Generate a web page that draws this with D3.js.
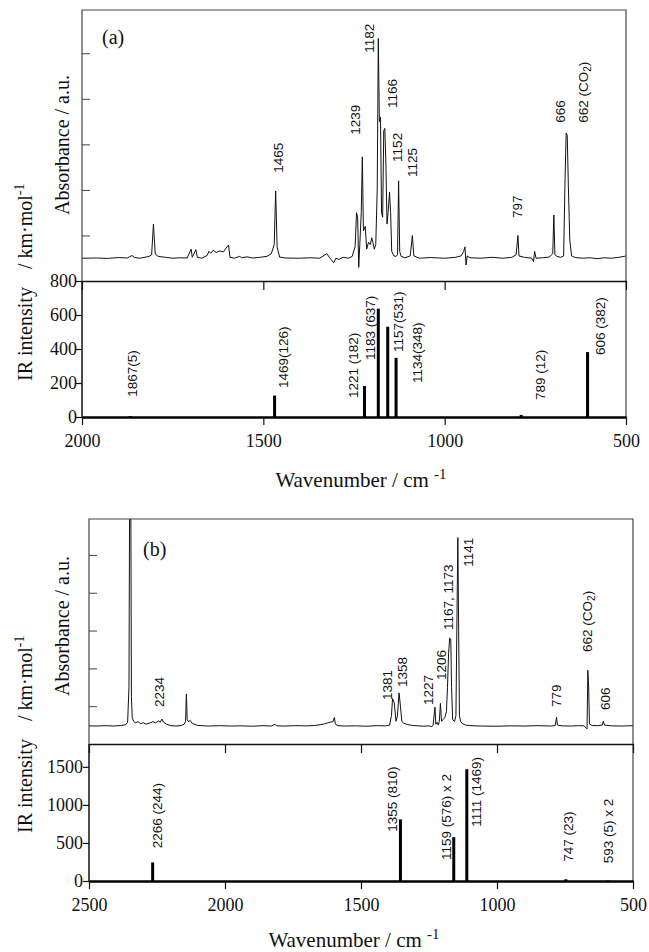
<!DOCTYPE html>
<html><head><meta charset="utf-8">
<script src="https://cdn.jsdelivr.net/npm/d3@7"></script>
<style>body{margin:0;background:#fff}svg{display:block}</style>
</head><body>
<svg id="c" width="649" height="952"></svg>
<script>
// ---------- DATA ----------
// Panel (a) experimental spectrum: [wavenumber, absorbance (a.u.)]
const specA = [
[2000,0.100],[1960,0.101],[1930,0.099],[1900,0.103],[1875,0.101],[1862,0.112],[1855,0.103],[1840,0.100],
[1815,0.108],[1808,0.115],[1803,0.250],[1798,0.118],[1790,0.108],[1770,0.104],[1750,0.100],[1730,0.102],
[1710,0.101],[1699,0.140],[1696,0.104],[1686,0.138],[1682,0.104],[1670,0.100],[1655,0.112],[1650,0.130],
[1645,0.122],[1638,0.135],[1630,0.125],[1620,0.132],[1610,0.128],[1600,0.150],[1596,0.158],[1592,0.104],
[1580,0.100],[1565,0.108],[1560,0.102],[1545,0.106],[1530,0.101],[1510,0.104],[1490,0.108],[1478,0.120],
[1470,0.160],[1466,0.395],[1462,0.150],[1455,0.105],[1440,0.101],[1400,0.100],[1370,0.102],[1345,0.100],
[1330,0.115],[1325,0.120],[1318,0.104],[1312,0.092],[1306,0.080],[1300,0.100],[1292,0.095],[1280,0.104],
[1265,0.100],[1255,0.108],[1247,0.150],[1243,0.300],[1240,0.280],[1237,0.060],[1234,0.160],[1230,0.300],
[1227,0.545],[1224,0.220],[1219,0.240],[1215,0.140],[1210,0.170],[1205,0.160],[1201,0.190],[1198,0.170],
[1194,0.140],[1190,0.160],[1186,0.400],[1183,1.065],[1180,0.700],[1177,0.720],[1174,0.300],[1171,0.280],
[1168,0.660],[1165,0.670],[1162,0.510],[1159,0.250],[1156,0.300],[1152,0.390],[1149,0.300],[1146,0.130],
[1140,0.110],[1134,0.108],[1130,0.115],[1127,0.440],[1124,0.130],[1120,0.108],[1110,0.102],[1095,0.110],
[1089,0.200],[1085,0.110],[1070,0.100],[1040,0.103],[1000,0.100],[970,0.104],[955,0.110],[948,0.128],
[944,0.150],[941,0.070],[938,0.110],[930,0.102],[900,0.100],[870,0.104],[840,0.100],[815,0.104],
[803,0.115],[798,0.200],[795,0.110],[780,0.104],[760,0.100],[755,0.085],[752,0.130],[748,0.100],
[730,0.102],[712,0.105],[702,0.120],[699,0.290],[696,0.115],[690,0.108],[680,0.104],[672,0.110],
[668,0.450],[665,0.650],[662,0.640],[659,0.420],[655,0.180],[650,0.110],[640,0.103],[620,0.100],
[600,0.102],[580,0.098],[560,0.102],[540,0.100],[520,0.104],[505,0.108],[500,0.110]
];
// Panel (a) calculated IR sticks: [wavenumber, intensity km/mol]
const sticksA = [[1867,5],[1469,126],[1221,182],[1183,637],[1157,531],[1134,348],[789,12],[606,382]];
// Panel (a) peak labels on spectrum: [text, wavenumber position, absorbance position]
const labelsAbsA = [
["1465",1459,0.475],["1239",1247,0.642],["1182",1208,1.002],["1166",1146,0.760],
["1152",1130,0.523],["1125",1089,0.457],["797",801,0.277],["666",682,0.695],["662 (CO|2|)",618,0.695]
];
const labelsIrA = [
["1867(5)",1863,119],["1469(126)",1445,171],["1221 (182)",1252,112],["1183 (637)",1206,335],
["1157(531)",1128,382],["1134(348)",1075,200],["789 (12)",737,100],["606 (382)",571,365]
];
const xTicksA = [2000,1500,1000,500];
const irTicksA = [0,200,400,600,800];

// Panel (b)
const specB = [
[2500,0.096],[2470,0.095],[2440,0.097],[2410,0.095],[2380,0.098],[2365,0.102],[2358,0.115],[2353,0.300],
[2350,1.600],[2347,1.600],[2344,0.250],[2341,0.140],[2336,0.120],[2330,0.112],[2320,0.118],[2310,0.108],
[2300,0.112],[2290,0.105],[2275,0.112],[2265,0.118],[2255,0.112],[2245,0.122],[2238,0.115],[2232,0.132],
[2226,0.115],[2215,0.105],[2200,0.097],[2180,0.095],[2160,0.098],[2150,0.105],[2145,0.120],[2142,0.265],
[2139,0.130],[2134,0.118],[2128,0.125],[2120,0.108],[2100,0.098],[2060,0.095],[2020,0.097],[1980,0.095],
[1940,0.096],[1900,0.094],[1860,0.097],[1830,0.095],[1816,0.104],[1810,0.096],[1780,0.095],[1740,0.097],
[1700,0.096],[1670,0.098],[1650,0.102],[1635,0.106],[1622,0.112],[1612,0.116],[1603,0.118],[1598,0.140],
[1594,0.105],[1585,0.097],[1560,0.095],[1520,0.096],[1480,0.094],[1440,0.097],[1410,0.096],[1395,0.100],
[1388,0.150],[1384,0.240],[1378,0.220],[1371,0.120],[1366,0.150],[1360,0.270],[1355,0.200],[1350,0.120],
[1343,0.110],[1330,0.103],[1310,0.098],[1290,0.096],[1270,0.094],[1250,0.096],[1240,0.092],[1235,0.098],
[1230,0.170],[1228,0.195],[1225,0.105],[1220,0.115],[1216,0.100],[1212,0.120],[1208,0.215],[1204,0.120],
[1198,0.130],[1192,0.140],[1186,0.170],[1182,0.300],[1178,0.480],[1174,0.560],[1170,0.555],[1167,0.300],
[1163,0.130],[1156,0.118],[1151,0.150],[1147,0.700],[1144,1.092],[1141,0.600],[1138,0.150],[1134,0.120],
[1128,0.108],[1115,0.100],[1100,0.097],[1060,0.095],[1000,0.094],[950,0.096],[900,0.095],[850,0.097],
[800,0.095],[786,0.098],[781,0.142],[778,0.100],[760,0.096],[730,0.095],[700,0.097],[680,0.096],
[672,0.085],[669,0.080],[666,0.390],[663,0.300],[660,0.105],[650,0.098],[630,0.097],[613,0.100],
[609,0.120],[605,0.100],[580,0.096],[540,0.095],[500,0.097]
];
const sticksB = [[2266,244],[1355,810],[1159,576],[1111,1469],[747,23],[593,5]];
const labelsAbsB = [
["2234",2242,0.196],["1381",1405,0.233],["1358",1350,0.302],["1227",1253,0.206],["1206",1207,0.339],
["1167, 1173",1179,0.603],["1141",1106,0.937],["779",781,0.196],["662 (CO|2|)",670,0.487],["606",603,0.180]
];
const labelsIrB = [
["2266 (244)",2251,430],["1355 (810)",1387,648],["1159 (576) x 2",1187,276],["1111 (1469)",1078,713],
["747 (23)",738,254],["593 (5) x 2",591,233]
];
const xTicksB = [2500,2000,1500,1000,500];
const irTicksB = [0,500,1000,1500];
const absTicks = [0.2,0.4,0.6,0.8,1.0];

// ---------- DRAW ----------
const svg = d3.select("#c");
const SERIF = "'Liberation Serif','Times New Roman',serif";
const SANS = "'Liberation Sans',Arial,sans-serif";
const fmt = d3.format("d");

function panel(o){
  const g = svg.append("g");
  const x = d3.scaleLinear().domain(o.xDomain).range([o.left,o.right]);
  const yA = d3.scaleLinear().domain([0,1.19]).range([o.absBottom,o.top]);
  const yI = d3.scaleLinear().domain([0,o.irMax]).range([o.irBottom,o.absBottom]);
  const id = "clip"+o.name;
  svg.append("clipPath").attr("id",id).append("rect")
    .attr("x",o.left).attr("y",o.top).attr("width",o.right-o.left).attr("height",o.absBottom-o.top);

  g.append("path").datum(o.spec).attr("clip-path",`url(#${id})`)
    .attr("fill","none").attr("stroke","#111").attr("stroke-width",1).attr("stroke-linejoin","round")
    .attr("d",d3.line().x(d=>x(d[0])).y(d=>yA(d[1])));

  g.append("path").attr("fill","none").attr("stroke","#444").attr("stroke-width",1.2)
    .attr("d",`M${o.left},${o.absBottom}V${o.top}H${o.right}V${o.irBottom}`);
  g.append("line").attr("x1",o.left).attr("x2",o.left).attr("y1",o.absBottom).attr("y2",o.irBottom)
    .attr("stroke","#111").attr("stroke-width",1.5);

  const aAx = g.append("g").attr("transform",`translate(${o.left},0)`)
    .call(d3.axisLeft(yA).tickValues(absTicks).tickSize(-8).tickFormat(""));
  aAx.select(".domain").remove();
  aAx.selectAll("line").attr("stroke","#444").attr("stroke-width",1);

  const sAx = g.append("g").attr("transform",`translate(0,${o.absBottom})`)
    .call(d3.axisBottom(x).tickValues(o.xTicks).tickSize(9).tickSizeOuter(0).tickFormat(""));
  sAx.select(".domain").attr("stroke","#111").attr("stroke-width",1.6);
  sAx.selectAll("line").attr("stroke","#111").attr("stroke-width",1.2);

  const bAx = g.append("g").attr("transform",`translate(0,${o.irBottom})`)
    .call(d3.axisBottom(x).tickValues(o.xTicks).tickSize(8).tickSizeOuter(0).tickPadding(9).tickFormat(fmt));
  bAx.select(".domain").attr("stroke","#000").attr("stroke-width",2.6);
  bAx.selectAll("line").attr("stroke","#111").attr("stroke-width",1.2);
  bAx.selectAll("text").attr("font-family",SERIF).attr("font-size",18).attr("fill","#111");

  const lAx = g.append("g").attr("transform",`translate(${o.left},0)`)
    .call(d3.axisLeft(yI).tickValues(o.irTicks).tickSize(6).tickSizeOuter(0).tickPadding(o.irPad).tickFormat(fmt));
  lAx.select(".domain").remove();
  lAx.selectAll("line").attr("stroke","#111").attr("stroke-width",1.2);
  lAx.selectAll("text").attr("font-family",SERIF).attr("font-size",18).attr("fill","#111");

  g.append("g").selectAll("line").data(o.sticks).join("line")
    .attr("x1",d=>x(d[0])).attr("x2",d=>x(d[0]))
    .attr("y1",yI(0)).attr("y2",d=>yI(d[1]))
    .attr("stroke","#000").attr("stroke-width",3);

  function lab(data, yS){
    data.forEach(d=>{
      const t = g.append("text")
        .attr("transform",`translate(${x(d[1])},${yS(d[2])}) rotate(-90)`)
        .attr("dy","0.36em").attr("font-family",SANS).attr("font-size",13.5).attr("fill","#111");
      const parts = d[0].split("|");
      parts.forEach((p,i)=>{
        const ts = t.append("tspan").text(p);
        if(i===1) ts.attr("font-size",10).attr("dy","0.3em");
        if(i===2) ts.attr("dy","-0.22em");
      });
    });
  }
  lab(o.labelsAbs, yA);
  lab(o.labelsIr, yI);

  g.append("text").attr("x",o.letterX).attr("y",o.letterY).text(o.letter)
    .attr("font-family",SERIF).attr("font-size",20).attr("fill","#111");

  g.append("text").attr("transform",`translate(62,${o.absTitleY}) rotate(-90)`)
    .attr("text-anchor","middle").attr("dy","0.35em")
    .attr("font-family",SERIF).attr("font-size",20).attr("fill","#111").text("Absorbance / a.u.");
  const it = g.append("text").attr("transform",`translate(25,${o.irTitleY}) rotate(-90)`)
    .attr("dy","0.35em").attr("font-family",SERIF).attr("font-size",20).attr("fill","#111");
  it.append("tspan").text("IR intensity");
  it.append("tspan").attr("dx",18).text("/ km·mol");
  it.append("tspan").attr("font-size",14).attr("dy","-0.55em").text("-1");

  const xt = g.append("text").attr("x",o.xTitleX).attr("y",o.xTitleY).attr("text-anchor","middle")
    .attr("font-family",SERIF).attr("font-size",21).attr("fill","#111");
  xt.append("tspan").text("Wavenumber / cm ");
  xt.append("tspan").attr("font-size",15).attr("dy","-0.55em").text("-1");
}

panel({name:"A", xDomain:[2000,500], left:82, right:626, top:10, absBottom:281, irBottom:417, irMax:800,
  spec:specA, sticks:sticksA, labelsAbs:labelsAbsA, labelsIr:labelsIrA, xTicks:xTicksA, irTicks:irTicksA,
  irPad:-1, letter:"(a)", letterX:102, letterY:44, absTitleY:145, irTitleY:381, xTitleX:361, xTitleY:487});
panel({name:"B", xDomain:[2500,500], left:89, right:633, top:519, absBottom:744, irBottom:881, irMax:1800,
  spec:specB, sticks:sticksB, labelsAbs:labelsAbsB, labelsIr:labelsIrB, xTicks:xTicksB, irTicks:irTicksB,
  irPad:0, letter:"(b)", letterX:143, letterY:556, absTitleY:626, irTitleY:833, xTitleX:354, xTitleY:947});
</script>
</body></html>
